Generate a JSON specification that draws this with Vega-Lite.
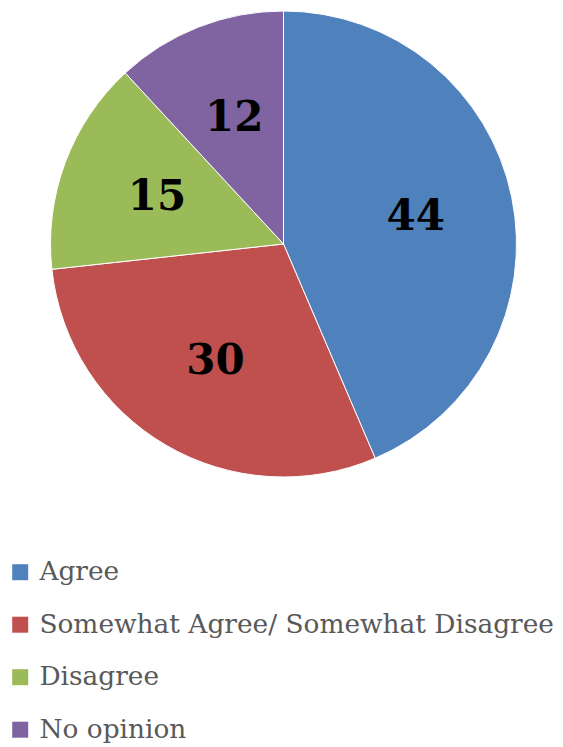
{
  "$schema": "https://vega.github.io/schema/vega-lite/v6.json",
  "width": 563,
  "height": 747,
  "autosize": "none",
  "padding": 0,
  "background": "white",
  "data": {
    "values": [
      {"category": "Agree", "value": 44, "idx": 1},
      {"category": "Somewhat Agree/ Somewhat Disagree", "value": 30, "idx": 2},
      {"category": "Disagree", "value": 15, "idx": 3},
      {"category": "No opinion", "value": 12, "idx": 4}
    ]
  },
  "encoding": {
    "theta": {"field": "value", "type": "quantitative", "stack": true},
    "order": {"field": "idx", "type": "quantitative"},
    "color": {
      "field": "category",
      "type": "nominal",
      "scale": {
        "domain": ["Agree", "Somewhat Agree/ Somewhat Disagree", "Disagree", "No opinion"],
        "range": ["#4F81BD", "#C0504D", "#9BBB59", "#8064A2"]
      },
      "legend": {
        "title": null,
        "orient": "none",
        "legendX": 7,
        "legendY": 559,
        "direction": "vertical",
        "symbolType": "square",
        "symbolSize": 256,
        "symbolStrokeWidth": 0,
        "labelFont": "DejaVu Serif",
        "labelFontSize": 26.4,
        "labelColor": "#595959",
        "labelLimit": 0,
        "labelOffset": 6,
        "rowPadding": 25.5
      }
    }
  },
  "layer": [
    {
      "mark": {"type": "arc", "outerRadius": 233, "x": 283.5, "y": 244, "stroke": "white", "strokeWidth": 1}
    },
    {
      "mark": {"type": "text", "radius": 135, "x": 283.5, "y": 244, "font": "DejaVu Serif", "fontSize": 42, "fontWeight": "bold", "fill": "black", "baseline": "middle", "align": "center"},
      "encoding": {
        "text": {"field": "value", "type": "quantitative"},
        "color": {"value": "black"}
      }
    }
  ]
}
